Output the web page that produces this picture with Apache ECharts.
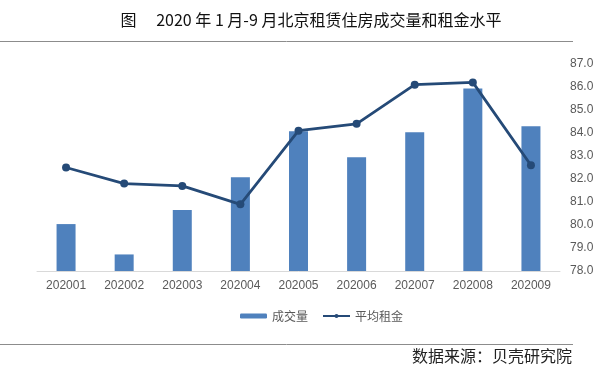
<!DOCTYPE html>
<html><head><meta charset="utf-8">
<script src="https://cdn.jsdelivr.net/npm/echarts@6/dist/echarts.min.js"></script>
<style>html,body{margin:0;padding:0;background:#fff}#c{width:600px;height:375px}</style>
</head><body><div id="c"></div>
<script>
const categories = ['202001','202002','202003','202004','202005','202006','202007','202008','202009'];
const volume = [2.04, 0.72, 2.65, 4.08, 6.08, 4.95, 6.03, 7.93, 6.29];
const rent = [82.5, 81.8, 81.7, 80.9, 84.1, 84.4, 86.1, 86.2, 82.6];
const rentTicks = { min: 78, max: 87, interval: 1 };
const titleText = '图　 2020 年 1 月-9 月北京租赁住房成交量和租金水平';
const sourceText = '数据来源：贝壳研究院';
const seriesNames = ['成交量', '平均租金'];

const chart = echarts.init(document.getElementById('c'));
chart.setOption({
  animation: false,
  textStyle: { fontFamily: 'Liberation Sans, Noto Sans CJK SC, sans-serif' },
  title: {
    text: titleText, left: 306, textAlign: 'center', top: 7,
    textStyle: { fontSize: 16, fontWeight: 'normal', color: '#111', fontFamily: 'Noto Sans CJK SC' }
  },
  graphic: [
    { type: 'line', shape: { x1: 0, y1: 41.5, x2: 573, y2: 41.5 }, style: { stroke: '#8c8c8c', lineWidth: 1 } },
    { type: 'line', shape: { x1: 0, y1: 344.5, x2: 573, y2: 344.5 }, style: { stroke: '#8c8c8c', lineWidth: 1 } },
    { type: 'text', right: 28, top: 348, style: { text: sourceText, fontSize: 16, fill: '#222', fontFamily: 'Noto Sans CJK SC' } }
  ],
  legend: {
    data: seriesNames, left: 235, top: 305, itemGap: 14, itemWidth: 27, itemHeight: 5,
    textStyle: { fontSize: 12, color: '#595959', fontFamily: 'Noto Sans CJK SC' }
  },
  grid: { left: 37, right: 40, top: 64, bottom: 104, containLabel: false },
  xAxis: {
    type: 'category', data: categories,
    axisLine: { lineStyle: { color: '#d9d9d9', width: 1 } },
    axisTick: { show: false },
    axisLabel: { color: '#595959', fontSize: 12, margin: 9, fontFamily: 'Liberation Sans' }
  },
  yAxis: [
    { type: 'value', min: 0, max: 9, interval: 1, show: false },
    {
      type: 'value', position: 'right', min: rentTicks.min, max: rentTicks.max, interval: rentTicks.interval,
      axisLine: { show: false }, axisTick: { show: false }, splitLine: { show: false },
      axisLabel: { color: '#595959', fontSize: 12, margin: 10, fontFamily: 'Liberation Sans', formatter: v => v.toFixed(1) }
    }
  ],
  series: [
    { name: seriesNames[0], type: 'bar', yAxisIndex: 0, data: volume, barWidth: 19,
      itemStyle: { color: '#4f81bd' } },
    { name: seriesNames[1], type: 'line', yAxisIndex: 1, data: rent,
      symbol: 'circle', symbolSize: 8,
      lineStyle: { color: '#254a77', width: 2.8 }, itemStyle: { color: '#254a77' } }
  ]
});
</script></body></html>
